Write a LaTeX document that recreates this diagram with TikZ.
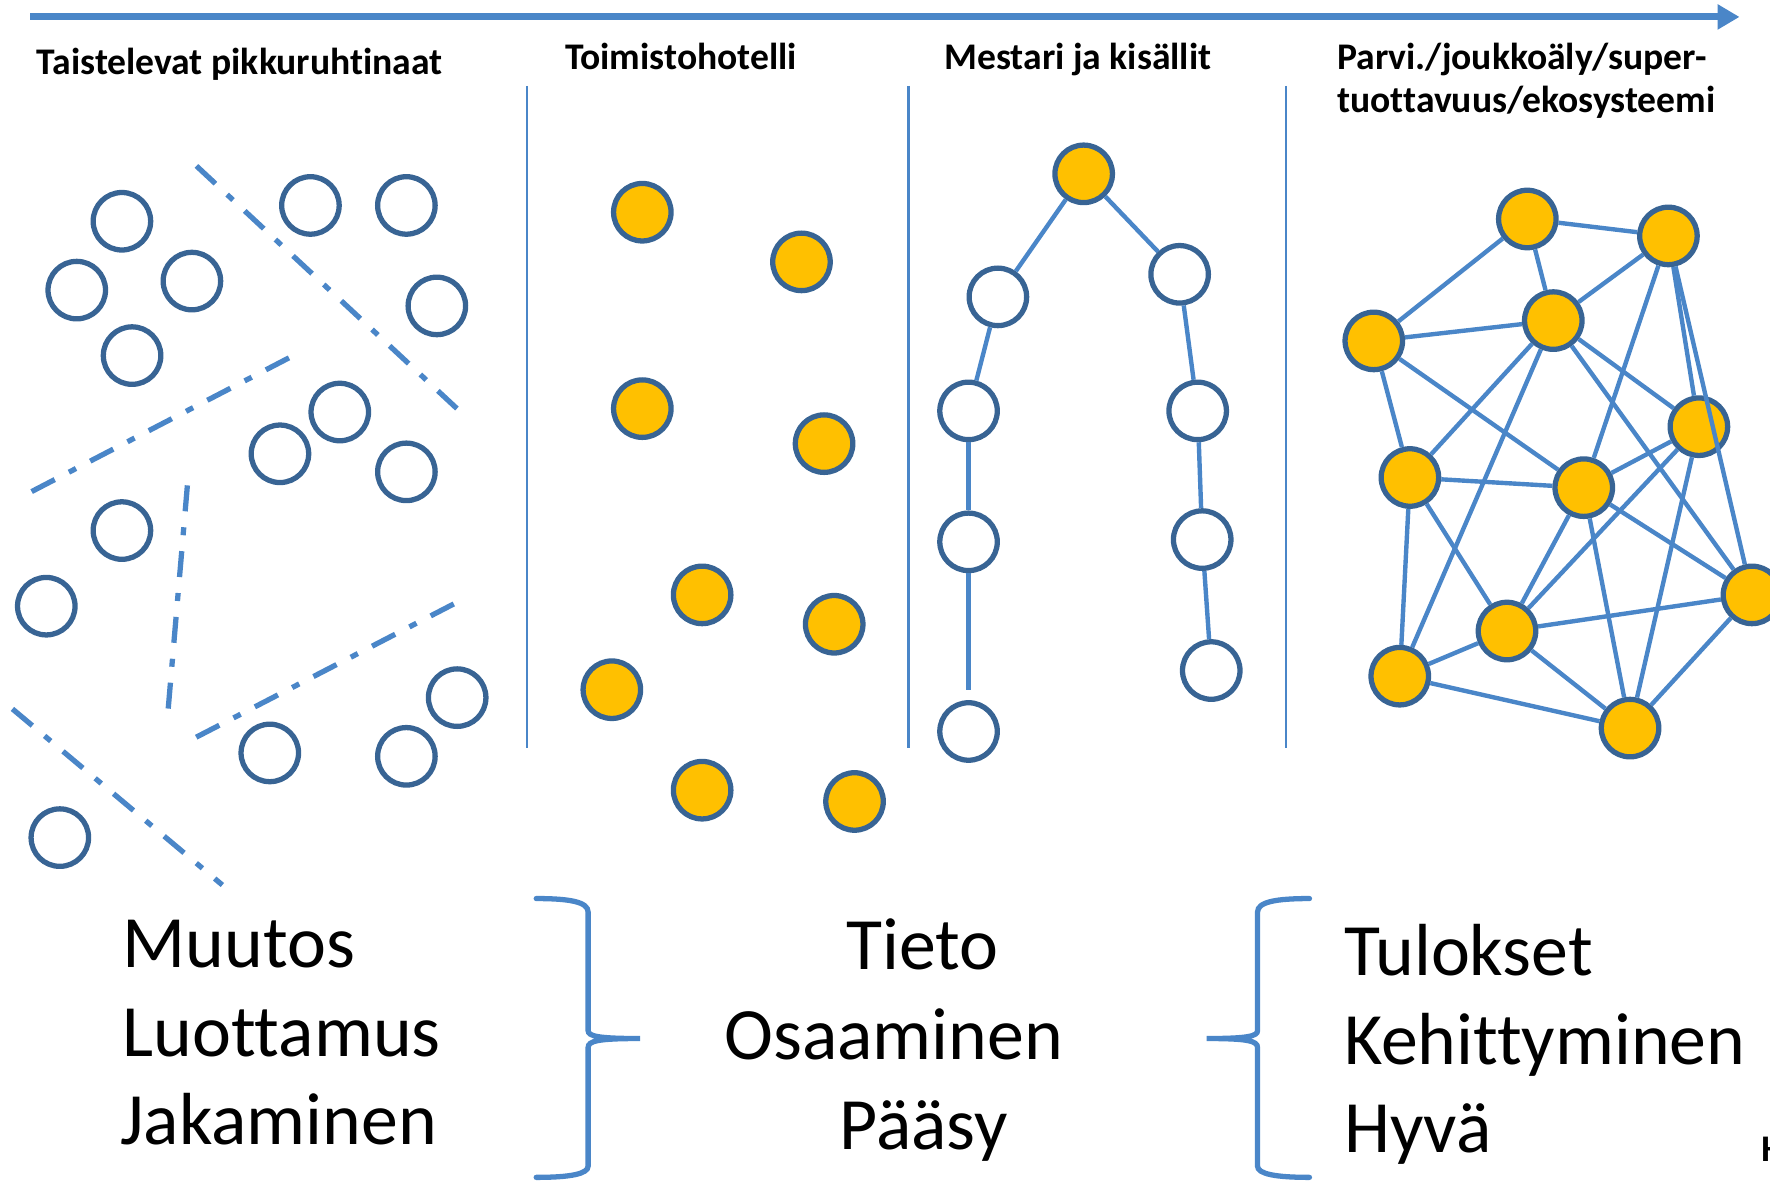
\documentclass[tikz,border=0pt]{standalone}
\usepackage{fontspec}
\setmainfont{Carlito}[Ligatures={NoCommon,NoContextual}]
\usepackage{tikz}
\usepackage{xcolor}
\usetikzlibrary{arrows.meta, calc, positioning}
\definecolor{lineblue}{RGB}{74,134,200}
\definecolor{ringblue}{RGB}{56,100,148}
\definecolor{gold}{RGB}{255,192,0}
\newcommand{\headfont}{\bfseries\fontsize{10.7}{12.4}\selectfont}
\newcommand{\wordfont}{\fontsize{21}{25.3}\selectfont}

\begin{document}
\begin{tikzpicture}[x=0.11288mm, y=-0.11288mm,
    peer/.style={circle, draw=ringblue, line width=1.5pt, fill=white, minimum size=5.75mm, inner sep=0pt},
    hub/.style={peer, fill=gold},
    link/.style={draw=lineblue, line width=1.25pt},
    cut/.style={lineblue, line width=1.5pt, dash pattern=on 2.6mm off 1.6mm on 0.8mm off 1.6mm},
    wall/.style={lineblue, line width=0.7pt},
    brace/.style={lineblue, line width=1.5pt, line cap=round},
    title/.style={anchor=base west, inner sep=0pt, font=\headfont},
    word/.style={anchor=base west, inner sep=0pt, font=\wordfont}]
    \useasboundingbox (0,0) rectangle (1568,1046);

    % time axis
    \coordinate (t0) at (27,15);
    \coordinate (t1) at (1541,15);
    \draw[lineblue, line width=2pt, -{Triangle[length=2.2mm, width=2.4mm]}] (t0) -- (t1);
    \foreach \x in {467,805,1139}
        \draw[wall] (\x,76) -- (\x,663);

    % headings
    \node[title] (pikku) at (32,66) {Taistelevat pikkuruhtinaat};
    \node[title] (hotelli) at (500,62) {Toimistohotelli};
    \node[title] (mestari) at (836,62) {Mestari ja kisällit};
    \node[title] (parvi) at (1184,62) {Parvi./joukkoäly/super-};
    \node[title] (tuot) at (1184,100) {tuottavuus/ekosysteemi};
    \node[title] (hcut) at (1560,1029) {H};

    % taistelevat pikkuruhtinaat
    \node[peer] (l1) at (108,196) {};
    \node[peer] (l2) at (68,257) {};
    \node[peer] (l3) at (170,249) {};
    \node[peer] (l4) at (117,315) {};
    \node[peer] (l5) at (275,182) {};
    \node[peer] (l6) at (360,182) {};
    \node[peer] (l7) at (387,271) {};
    \node[peer] (l8) at (301,365) {};
    \node[peer] (l9) at (248,402) {};
    \node[peer] (l10) at (360,418) {};
    \node[peer] (l11) at (108,470) {};
    \node[peer] (l12) at (41,537) {};
    \node[peer] (l13) at (405,618) {};
    \node[peer] (l14) at (239,667) {};
    \node[peer] (l15) at (360,670) {};
    \node[peer] (l16) at (53,742) {};
    \draw[cut] (174,147) -- (407,364);
    \draw[cut] (256,317) -- (27,436);
    \draw[cut] (166,430) -- (149,628);
    \draw[cut] (402,535) -- (172,654);
    \draw[cut] (11,628) -- (197,784);

    % toimistohotelli
    \node[hub] (h1) at (569,188) {};
    \node[hub] (h2) at (710,232) {};
    \node[hub] (h3) at (569,362) {};
    \node[hub] (h4) at (730,393) {};
    \node[hub] (h5) at (622,527) {};
    \node[hub] (h6) at (739,553) {};
    \node[hub] (h7) at (542,611) {};
    \node[hub] (h8) at (622,700) {};
    \node[hub] (h9) at (757,710) {};

    % mestari ja kisallit
    \node[hub] (m0) at (960,154) {};
    \node[peer] (m1) at (884,263) {};
    \node[peer] (m2) at (858,364) {};
    \node[peer] (m3) at (858,480) {};
    \node[peer] (m4) at (858,648) {};
    \node[peer] (m5) at (1045,243) {};
    \node[peer] (m6) at (1061,364) {};
    \node[peer] (m7) at (1065,478) {};
    \node[peer] (m8) at (1073,594) {};
    \draw[link]
    (m0) edge (m1) (m1) edge (m2) (m2) edge (m3) (m3) edge[shorten >=3pt] (m4)
    (m0) edge (m5) (m5) edge (m6) (m6) edge (m7) (m7) edge (m8);

    % parvi
    \node[hub] (n1) at (1353,194) {};
    \node[hub] (n2) at (1478,209) {};
    \node[hub] (n3) at (1217,302) {};
    \node[hub] (n4) at (1376,284) {};
    \node[hub] (n5) at (1505,378) {};
    \node[hub] (n6) at (1249,423) {};
    \node[hub] (n7) at (1403,432) {};
    \node[hub] (n8) at (1552,527) {};
    \node[hub] (n9) at (1335,559) {};
    \node[hub] (n10) at (1240,599) {};
    \node[hub] (n11) at (1444,645) {};
    \draw[link]
    (n1) edge (n2) (n1) edge (n3) (n1) edge (n4)
    (n2) edge (n4) (n2) edge (n7) (n2) edge (n5) (n2) edge (n8)
    (n3) edge (n4) (n3) edge (n6) (n3) edge (n7)
    (n4) edge (n6) (n4) edge (n10) (n4) edge (n5) (n4) edge (n8)
    (n5) edge (n7) (n5) edge (n9) (n5) edge (n11)
    (n6) edge (n7) (n6) edge (n9) (n6) edge (n10)
    (n7) edge (n9) (n7) edge (n11) (n7) edge (n8)
    (n8) edge (n9) (n8) edge (n11)
    (n9) edge (n10) (n9) edge (n11)
    (n10) edge (n11);

    % values
    \node[word] (muutos) at (108,857) {Muutos};
    \node[word] (luottamus) at (108,936) {Luottamus};
    \node[word] (jakaminen) at (106,1014) {Jakaminen};
    \node[word] (tieto) at (749,859) {Tieto};
    \node[word] (osaaminen) at (641,939) {Osaaminen};
    \node[word] (paasy) at (743,1018) {Pääsy};
    \node[word] (tulokset) at (1190,864) {Tulokset};
    \node[word] (kehitys) at (1190,943) {Kehittyminen};
    \node[word] (hyva) at (1190,1021) {Hyvä};
    \draw[brace] (475,796) .. controls (505,796) and (521,799) .. (521,808) -- (521,913)
        .. controls (521,918) and (530,920) .. (567,920) .. controls (530,920) and (521,922) .. (521,928)
        -- (521,1033) .. controls (521,1040) and (505,1043) .. (475,1043);
    \draw[brace] (1160,796) .. controls (1130,796) and (1114,799) .. (1114,808) -- (1114,913)
        .. controls (1114,918) and (1105,920) .. (1069,920) .. controls (1105,920) and (1114,922) .. (1114,928)
        -- (1114,1033) .. controls (1114,1040) and (1130,1043) .. (1160,1043);
\end{tikzpicture}
\end{document}
